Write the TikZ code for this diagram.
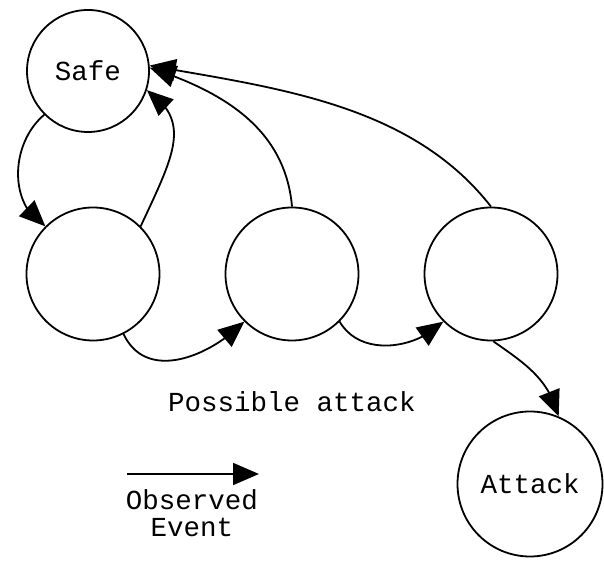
\documentclass[tikz,border=0pt]{standalone}
\usepackage{fontspec}
\setmonofont{Liberation Mono}
\usetikzlibrary{arrows.meta,bending}
\begin{document}
\begin{tikzpicture}[x=1pt,y=1pt,
    stnode/.style={draw,circle,line width=1.8pt,inner sep=0pt,font=\fontsize{27.5}{27}\selectfont\ttfamily},
    tr/.style={-{Triangle[length=26pt,width=22pt]},line width=1.8pt},
    lbl/.style={font=\fontsize{27.5}{27}\selectfont\ttfamily,align=center}]
  \useasboundingbox (0,0) rectangle (604,561);
  % states
  \node[stnode,minimum size=122pt] (safe) at (88,490) {Safe};
  \node[stnode,minimum size=133pt] (s1) at (93,287) {};
  \node[stnode,minimum size=133pt] (s2) at (292,287) {};
  \node[stnode,minimum size=133pt] (s3) at (491,287) {};
  \node[stnode,minimum size=145pt] (att) at (530,77) {Attack};
  \node[lbl] (pa) at (292,159) {Possible attack};
  % legend
  \coordinate (ev1) at (127,87);
  \coordinate (ev2) at (259,87);
  \node[lbl] (ev) at (192,48) {Observed\\Event};
  % transitions
  \draw[tr] (safe.-135) to[out=-140,in=150] (s1.135);
  \draw[tr] (s1.45) .. controls +(65:80) and +(-35:55) .. (safe.-18);
  \draw[tr] (s2.90) to[out=95,in=-18] (safe.3);
  \draw[tr] (s3.90) to[out=128,in=-10,looseness=0.9] (safe.5);
  \draw[tr] (s1.-63) to[out=-65,in=-135,looseness=1.1] (s2.-135);
  \draw[tr] (s2.-45) to[out=-60,in=-135] (s3.-135);
  \draw[tr] (s3.-88) to[out=-35,in=105] (att.67);
  \draw[tr] (ev1) -- (ev2);
\end{tikzpicture}
\end{document}
